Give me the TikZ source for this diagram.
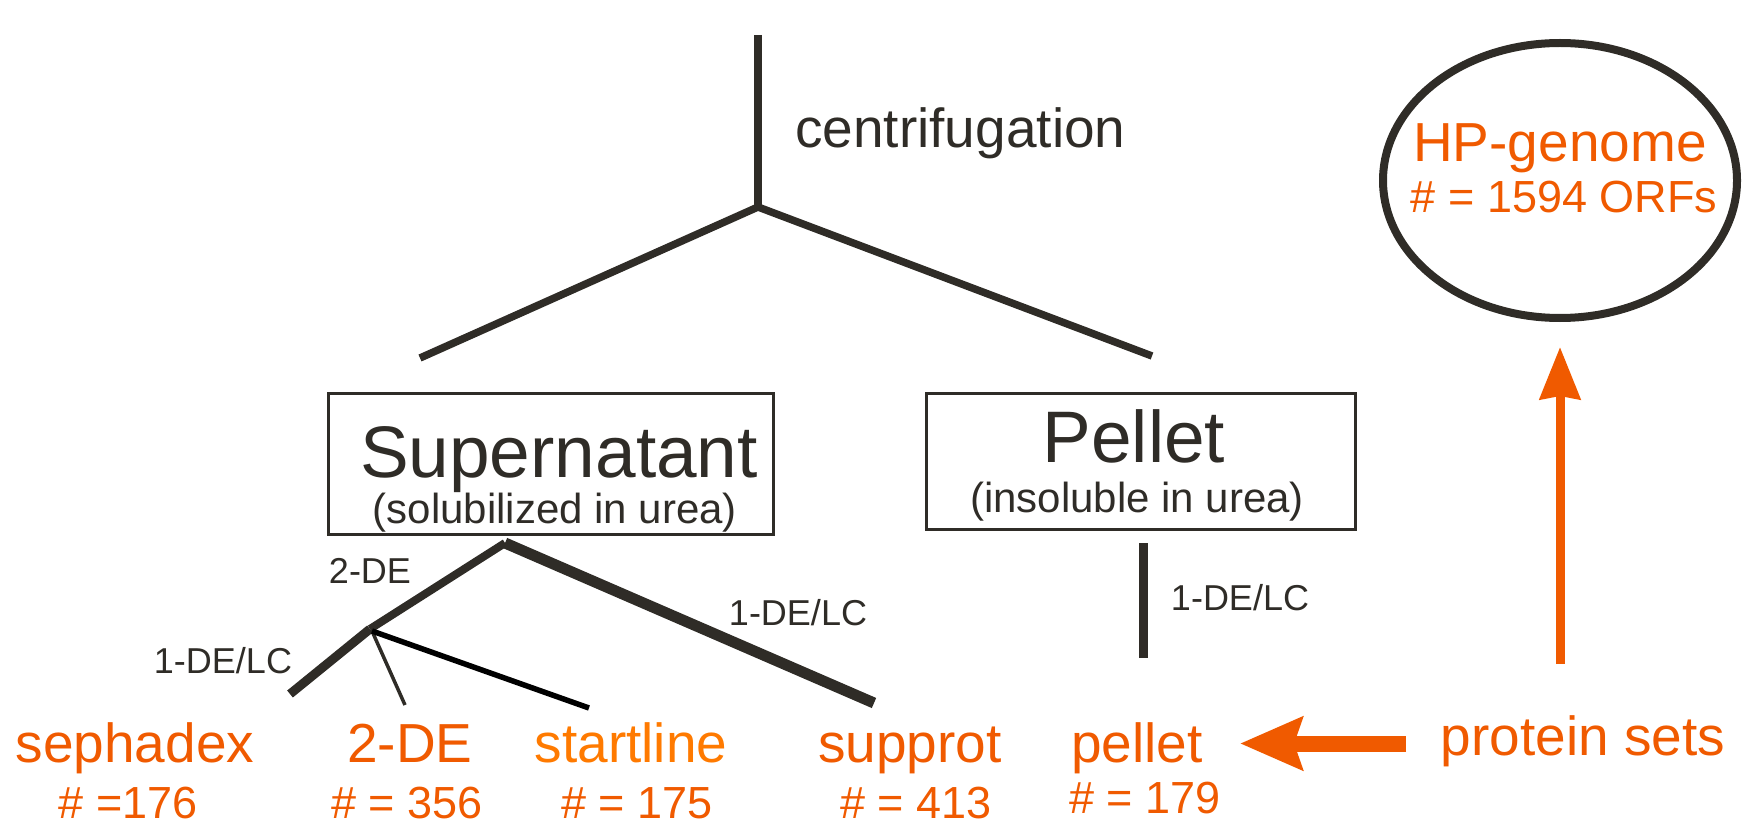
\documentclass[tikz,border=0pt]{standalone}
\usepackage{fontspec}
\setmainfont{Liberation Sans}
\usetikzlibrary{arrows.meta,shapes.geometric}
\definecolor{ink}{HTML}{2F2C27}
\definecolor{org}{HTML}{F05A00}
\definecolor{orgb}{HTML}{FF7A00}
\tikzset{
  tree/.style={draw=ink, line cap=butt},
  boxstyle/.style={draw=ink, line width=3pt, rectangle, inner sep=0pt},
  lbl/.style={anchor=base, inner sep=0pt, text=ink},
  biglbl/.style={lbl, font=\fontsize{73}{80}\selectfont},
  paren/.style={lbl, font=\fontsize{42}{48}\selectfont},
  midlbl/.style={lbl, font=\fontsize{55}{60}\selectfont},
  smalllbl/.style={lbl, font=\fontsize{36}{40}\selectfont},
  olbl/.style={anchor=base, inner sep=0pt, text=org, font=\fontsize{55}{60}\selectfont},
  onum/.style={anchor=base, inner sep=0pt, text=org, font=\fontsize{45}{50}\selectfont},
  oarrow/.style={draw=org}
}
\begin{document}
\begin{tikzpicture}[x=1pt,y=-1pt]
\useasboundingbox (0,0) rectangle (1742,826);

% top tree
\coordinate (top) at (758,35);
\coordinate (j1) at (758,207);
\coordinate (l1) at (420,358);
\coordinate (r1) at (1152,356);
\draw[tree, line width=8pt] (top) -- (j1);
\draw[tree, line width=7.5pt] (j1) -- (l1);
\draw[tree, line width=7.5pt] (j1) -- (r1);
\node[midlbl, anchor=base west] (centri) at (795,148) {centrifugation};

% boxes
\node[boxstyle, minimum width=445pt, minimum height=141pt] (supbox) at (550.5,463.5) {};
\node[biglbl] (suptxt) at (559,477) {Supernatant};
\node[paren] (supsub) at (555,523) {(solubilized in urea)};

\node[boxstyle, minimum width=429pt, minimum height=136pt] (pelbox) at (1140.5,461) {};
\node[biglbl] (peltxt) at (1134,462) {Pellet};
\node[paren] (pelsub) at (1137,512) {(insoluble in urea)};

% sub tree
\coordinate (a2) at (505,543);
\coordinate (j2) at (370,629);
\coordinate (sephE) at (290,694);
\coordinate (tdeE) at (405,705);
\coordinate (startE) at (589,708);
\coordinate (suppE) at (874,703);
\draw[tree, line width=8pt] (a2) -- (j2);
\draw[tree, line width=9pt] (j2) -- (sephE);
\draw[tree, line width=11pt] (a2) -- (suppE);
\draw[tree, line width=3.5pt] (372,631) -- (tdeE);
\draw[draw=black, line width=5.5pt] (372,631) -- (startE);

\node[smalllbl] (lab2de) at (370,583) {2-DE};
\node[smalllbl] (lab1r) at (798,625) {1-DE/LC};
\node[smalllbl] (lab1l) at (223,673) {1-DE/LC};

% pellet branch
\coordinate (pt) at (1143,543);
\coordinate (pb) at (1143,658);
\draw[tree, line width=9pt] (pt) -- (pb);
\node[smalllbl] (lab1p) at (1240,610) {1-DE/LC};

% orange labels
\node[olbl] (seph) at (135,762) {sephadex};
\node[onum] (sephn) at (128,818) {\# =176};
\node[olbl] (tde) at (410,762) {2-DE};
\node[onum] (tden) at (407,818) {\# = 356};
\node[olbl, text=orgb] (start) at (631,762) {startline};
\node[onum] (startn) at (637,818) {\# = 175};
\node[olbl] (supp) at (910,762) {supprot};
\node[onum] (suppn) at (916,818) {\# = 413};
\node[olbl] (pel) at (1137,762) {pellet};
\node[onum] (peln) at (1145,813) {\# = 179};
\node[olbl] (prot) at (1583,755) {protein sets};

% genome ellipse
\node[ellipse, draw=ink, line width=8pt, minimum width=354pt, minimum height=275pt, inner sep=0pt] (genome) at (1560,180.5) {};
\node[olbl] (hp) at (1560,162) {HP-genome};
\node[onum] (hpn) at (1564,213) {\# = 1594 ORFs};

% arrows
\coordinate (hS) at (1406,743.5);
\coordinate (hE) at (1240,743.5);
\draw[oarrow, line width=16pt, -{Stealth[length=62pt,width=52pt,inset=8pt]}] (hS) -- (hE);
\coordinate (vS) at (1560,664);
\coordinate (vE) at (1560,347);
\draw[oarrow, line width=9pt, -{Stealth[length=52pt,width=40pt,inset=3pt]}] (vS) -- (vE);
\end{tikzpicture}
\end{document}
